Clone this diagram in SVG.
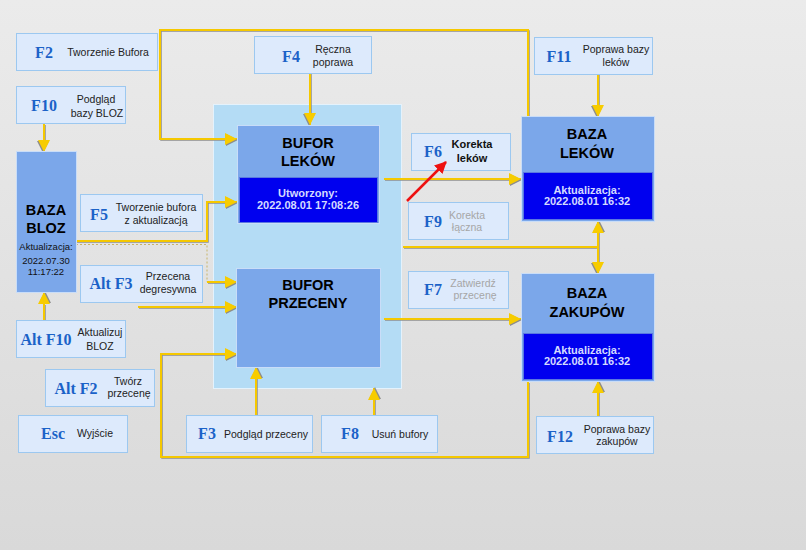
<svg xmlns="http://www.w3.org/2000/svg" width="806" height="550" viewBox="0 0 806 550">
<defs>
<linearGradient id="bg" x1="0" y1="0" x2="0" y2="1">
<stop offset="0" stop-color="#ebebeb"/>
<stop offset="1" stop-color="#d9d9d9"/>
</linearGradient>
<marker id="ya" markerUnits="userSpaceOnUse" markerWidth="16" markerHeight="16" refX="12" refY="7" orient="auto">
<path d="M1,2 L13,8 L1,14 z" fill="#8c8c8c"/>
<path d="M0,1 L12,7 L0,13 z" fill="#f7cc00"/>
</marker>
<marker id="yas" markerUnits="userSpaceOnUse" markerWidth="16" markerHeight="16" refX="12" refY="7" orient="auto-start-reverse">
<path d="M1,2 L13,8 L1,14 z" fill="#8c8c8c"/>
<path d="M0,1 L12,7 L0,13 z" fill="#f7cc00"/>
</marker>
<marker id="ra" markerUnits="userSpaceOnUse" markerWidth="14" markerHeight="14" refX="11" refY="6" orient="auto">
<path d="M0,0 L12,6 L0,12 z" fill="#ee1111"/>
</marker>
</defs>
<style>
.key{fill:#ddeafc;stroke:#9cc8f0;stroke-width:1}
.k{font-family:"Liberation Serif",serif;font-weight:bold;font-size:16px;fill:#1b62c8;text-anchor:middle}
.d{font-family:"Liberation Sans",Arial,sans-serif;font-size:10.5px;fill:#222;text-anchor:middle}
.dg{font-family:"Liberation Sans",Arial,sans-serif;font-size:10.5px;fill:#a6a6a6;text-anchor:middle}
.db{font-family:"Liberation Sans",Arial,sans-serif;font-size:11px;font-weight:bold;fill:#111;text-anchor:middle}
.box{fill:#7ba7ea;stroke:#c9ddf8;stroke-width:1}
.dark{fill:#0000ef;stroke:#5a78e0;stroke-width:1}
.t{font-family:"Liberation Sans",Arial,sans-serif;font-weight:bold;font-size:14.5px;fill:#000;text-anchor:middle}
.w{font-family:"Liberation Sans",Arial,sans-serif;font-weight:bold;font-size:11px;fill:#d4daff;text-anchor:middle}
.s{font-family:"Liberation Sans",Arial,sans-serif;font-size:9.5px;fill:#111;text-anchor:middle}
.sh{fill:none;stroke:#8f8f8f;stroke-width:1.5}
.y{fill:none;stroke:#f5c800;stroke-width:2}
</style>
<rect x="0" y="0" width="806" height="550" fill="url(#bg)"/>

<g id="panel">
<rect x="213.5" y="104.5" width="188" height="284" fill="#b4dcf5" stroke="#e4f2fc" stroke-width="1"/>
</g>

<g id="connectors">
<g transform="translate(1,1)">
<path class="sh" d="M528,117 V30 H160 V139 H226"/>
<path class="sh" d="M310,73 V114"/>
<path class="sh" d="M44,124 V140"/>
<path class="sh" d="M44,320 V304"/>
<path class="sh" d="M76,241 H207 V202 H226"/>
<path class="sh" d="M207,282 H226"/>
<path class="sh" d="M138,307 H226"/>
<path class="sh" d="M528,382 V457 H161 V354 H226"/>
<path class="sh" d="M256,415 V378"/>
<path class="sh" d="M374,415 V399"/>
<path class="sh" d="M384,179 H510"/>
<path class="sh" d="M403,247 H598"/>
<path class="sh" d="M598,232 V263"/>
<path class="sh" d="M384,319 H510"/>
<path class="sh" d="M598,74 V106"/>
<path class="sh" d="M598,416 V392"/>
</g>
<path class="y" d="M528,117 V30 H160 V139 H237" marker-end="url(#ya)"/>
<path class="y" d="M310,73 V125" marker-end="url(#ya)"/>
<path class="y" d="M44,124 V152" marker-end="url(#ya)"/>
<path class="y" d="M44,320 V292" marker-end="url(#ya)"/>
<path class="y" d="M76,241 H207 V202 H237" marker-end="url(#ya)"/>
<path d="M76,244.5 H207 V282" fill="none" stroke="#c8b46a" stroke-width="1" stroke-dasharray="2,2"/>
<path class="y" d="M207,282 H237" marker-end="url(#ya)"/>
<path class="y" d="M138,307 H237" marker-end="url(#ya)"/>
<path class="y" d="M528,382 V457 H161 V354 H237" marker-end="url(#ya)"/>
<path class="y" d="M256,415 V367" marker-end="url(#ya)"/>
<path class="y" d="M374,415 V388" marker-end="url(#ya)"/>
<path class="y" d="M384,179 H521" marker-end="url(#ya)"/>
<path class="y" d="M403,247 H598"/>
<path class="y" d="M598,221 V274" marker-start="url(#yas)" marker-end="url(#yas)"/>
<path class="y" d="M384,319 H521" marker-end="url(#ya)"/>
<path class="y" d="M598,74 V117" marker-end="url(#ya)"/>
<path class="y" d="M598,416 V381" marker-end="url(#ya)"/>
</g>

<g id="bufor-lekow">
<rect class="box" x="237.5" y="125.5" width="142" height="98"/>
<rect class="dark" x="239.5" y="177.5" width="138" height="45"/>
<text class="t" x="308" y="148">BUFOR</text>
<text class="t" x="308" y="166">LEKÓW</text>
<text class="w" x="308" y="197">Utworzony:</text>
<text class="w" x="308" y="209">2022.08.01 17:08:26</text>
</g>

<g id="bufor-przeceny">
<rect class="box" x="236.5" y="268.5" width="144" height="99"/>
<text class="t" x="308" y="290">BUFOR</text>
<text class="t" x="308" y="308">PRZECENY</text>
</g>

<g id="baza-bloz">
<rect class="box" x="16.5" y="151.5" width="60" height="141"/>
<text class="t" x="46" y="215">BAZA</text>
<text class="t" x="46" y="233">BLOZ</text>
<text class="s" x="46" y="250">Aktualizacja:</text>
<text class="s" x="46" y="264">2022.07.30</text>
<text class="s" x="46" y="275">11:17:22</text>
</g>

<g id="baza-lekow">
<rect class="box" x="521.5" y="116.5" width="133" height="105"/>
<rect class="dark" x="523.5" y="172.5" width="129" height="47"/>
<text class="t" x="587" y="139">BAZA</text>
<text class="t" x="587" y="158">LEKÓW</text>
<text class="w" x="587" y="194">Aktualizacja:</text>
<text class="w" x="587" y="205">2022.08.01 16:32</text>
</g>

<g id="baza-zakupow">
<rect class="box" x="521.5" y="273.5" width="133" height="108"/>
<rect class="dark" x="523.5" y="333.5" width="129" height="46"/>
<text class="t" x="587" y="298">BAZA</text>
<text class="t" x="587" y="317">ZAKUPÓW</text>
<text class="w" x="587" y="354">Aktualizacja:</text>
<text class="w" x="587" y="365">2022.08.01 16:32</text>
</g>

<g id="f2">
<rect class="key" x="16.5" y="33.5" width="141" height="37"/>
<text class="k" x="44" y="58">F2</text>
<text class="d" x="108" y="56">Tworzenie Bufora</text>
</g>

<g id="f10">
<rect class="key" x="16.5" y="86.5" width="109" height="37"/>
<text class="k" x="44" y="111">F10</text>
<text class="d" x="96" y="103">Podgląd</text>
<text class="d" x="97" y="117">bazy BLOZ</text>
</g>

<g id="f5">
<rect class="key" x="80.5" y="194.5" width="122" height="37"/>
<text class="k" x="99" y="220">F5</text>
<text class="d" x="156" y="211">Tworzenie bufora</text>
<text class="d" x="156" y="224">z aktualizacją</text>
</g>

<g id="altf3">
<rect class="key" x="80.5" y="265.5" width="122" height="37"/>
<text class="k" x="111" y="289">Alt F3</text>
<text class="d" x="168" y="280">Przecena</text>
<text class="d" x="168" y="293">degresywna</text>
</g>

<g id="altf10">
<rect class="key" x="16.5" y="320.5" width="109" height="37"/>
<text class="k" x="46" y="345">Alt F10</text>
<text class="d" x="100" y="336">Aktualizuj</text>
<text class="d" x="100" y="350">BLOZ</text>
</g>

<g id="altf2">
<rect class="key" x="45.5" y="369.5" width="109" height="37"/>
<text class="k" x="76" y="394">Alt F2</text>
<text class="d" x="128" y="385">Twórz</text>
<text class="d" x="129" y="397">przecenę</text>
</g>

<g id="esc">
<rect class="key" x="18.5" y="415.5" width="109" height="37"/>
<text class="k" x="53" y="439">Esc</text>
<text class="d" x="95" y="437">Wyjście</text>
</g>

<g id="f3">
<rect class="key" x="186.5" y="415.5" width="126" height="37"/>
<text class="k" x="207" y="439">F3</text>
<text class="d" x="266" y="438">Podgląd przeceny</text>
</g>

<g id="f8">
<rect class="key" x="321.5" y="415.5" width="116" height="37"/>
<text class="k" x="350" y="439">F8</text>
<text class="d" x="400" y="438">Usuń bufory</text>
</g>

<g id="f4">
<rect class="key" x="254.5" y="36.5" width="117" height="37"/>
<text class="k" x="291" y="62">F4</text>
<text class="d" x="333" y="53">Ręczna</text>
<text class="d" x="333" y="66">poprawa</text>
</g>

<g id="f6">
<rect class="key" x="411.5" y="133.5" width="99" height="37"/>
<text class="k" x="433" y="157">F6</text>
<text class="db" x="472" y="148">Korekta</text>
<text class="db" x="472" y="162">leków</text>
</g>

<g id="f9">
<rect class="key" x="408.5" y="202.5" width="100" height="37"/>
<text class="k" x="433" y="227">F9</text>
<text class="dg" x="467" y="219">Korekta</text>
<text class="dg" x="467" y="231">łączna</text>
</g>

<g id="f7">
<rect class="key" x="408.5" y="271.5" width="100" height="37"/>
<text class="k" x="433" y="295">F7</text>
<text class="dg" x="473" y="287">Zatwierdź</text>
<text class="dg" x="475" y="299">przecenę</text>
</g>

<g id="f11">
<rect class="key" x="534.5" y="37.5" width="118" height="37"/>
<text class="k" x="559" y="62">F11</text>
<text class="d" x="616" y="53">Poprawa bazy</text>
<text class="d" x="616" y="66">leków</text>
</g>

<g id="f12">
<rect class="key" x="536.5" y="416.5" width="117" height="37"/>
<text class="k" x="560" y="442">F12</text>
<text class="d" x="617" y="433">Poprawa bazy</text>
<text class="d" x="617" y="445">zakupów</text>
</g>

<g id="connector-red">
<path d="M407,201 L446,162" fill="none" stroke="#ee1111" stroke-width="2.5" marker-end="url(#ra)"/>
</g>
</svg>
